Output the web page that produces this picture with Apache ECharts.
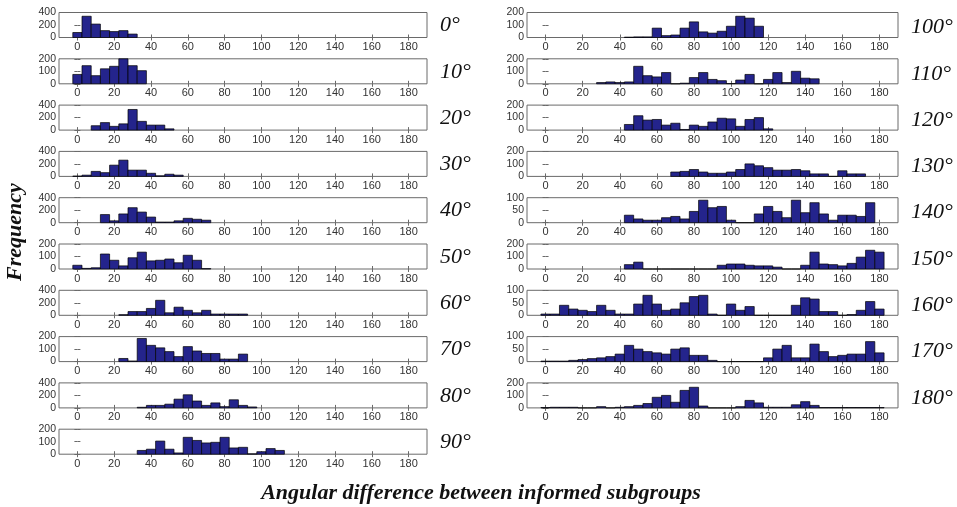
<!DOCTYPE html>
<html>
<head>
<meta charset="utf-8">
<script src="https://cdn.jsdelivr.net/npm/echarts@6/dist/echarts.min.js"></script>
<style>
  html, body { margin: 0; padding: 0; background: #fff; }
  #chart { width: 957px; height: 507px; }
</style>
</head>
<body>
<div id="chart"></div>
<script>
// bin counts per informed-subgroup angle, 5 degree bins, first bin given in firstBin
const c0   = [80, 340, 215, 110, 95, 110, 55];
const c10  = [75, 145, 65, 120, 140, 200, 145, 105];
const c20  = [70, 120, 60, 100, 330, 140, 80, 80, 20];
const c30  = [5, 20, 80, 60, 180, 260, 100, 100, 50, 10, 35, 20];
const c40  = [130, 30, 140, 240, 170, 90, 10, 10, 30, 70, 55, 40];
const c50  = [30, 5, 10, 120, 70, 25, 90, 135, 65, 70, 80, 50, 110, 70, 3];
const c60  = [10, 60, 60, 110, 240, 40, 130, 80, 40, 80, 20, 20, 20, 20];
const c70  = [25, 5, 185, 130, 110, 80, 40, 120, 85, 65, 65, 20, 20, 60];
const c80  = [10, 40, 40, 60, 140, 210, 110, 40, 80, 20, 130, 40, 15];
const c90  = [30, 40, 105, 40, 10, 135, 110, 90, 95, 135, 50, 55, 3, 20, 45, 30];
const c100 = [3, 5, 5, 75, 15, 20, 75, 125, 45, 35, 50, 90, 170, 155, 90];
const c110 = [10, 15, 10, 15, 140, 65, 55, 90, 0, 5, 50, 90, 35, 25, 2, 30, 75, 0, 35, 90, 10, 100, 45, 40];
const c120 = [45, 115, 80, 85, 40, 55, 5, 40, 30, 65, 95, 90, 30, 85, 100, 10];
const c130 = [35, 40, 55, 35, 25, 25, 35, 55, 100, 85, 70, 50, 50, 55, 45, 20, 20, 0, 45, 20, 20];
const c140 = [30, 15, 10, 10, 20, 25, 15, 45, 90, 60, 65, 10, 0, 0, 35, 65, 45, 20, 90, 40, 80, 35, 10, 30, 30, 25, 80];
const c150 = [35, 55, 0, 0, 0, 0, 0, 0, 0, 0, 30, 40, 40, 30, 25, 25, 15, 0, 0, 30, 135, 40, 35, 25, 45, 95, 150, 135];
const c160 = [5, 5, 40, 25, 20, 15, 40, 20, 5, 5, 45, 80, 45, 20, 25, 50, 75, 80, 5, 0, 45, 20, 35, 0, 0, 0, 0, 40, 70, 65, 15, 15, 0, 3, 20, 55, 25];
const c170 = [2, 2, 2, 5, 8, 12, 15, 20, 30, 65, 50, 40, 35, 30, 50, 55, 25, 25, 5, 0, 0, 0, 0, 0, 15, 50, 65, 15, 15, 70, 40, 20, 25, 30, 30, 80, 35];
const c180 = [3, 5, 5, 5, 0, 0, 10, 0, 5, 10, 20, 35, 85, 100, 45, 140, 165, 15, 0, 0, 0, 10, 60, 40, 5, 5, 5, 25, 50, 20, 3, 3, 3, 3, 3, 3, 3];

const counts = [c0, c10, c20, c30, c40, c50, c60, c70, c80, c90,
                c100, c110, c120, c130, c140, c150, c160, c170, c180];
const panelLabels = ['0°', '10°', '20°', '30°', '40°', '50°', '60°', '70°', '80°', '90°',
                     '100°', '110°', '120°', '130°', '140°', '150°', '160°', '170°', '180°'];
const firstBin = [0, 0, 10, 0, 15, 0, 25, 25, 35, 35, 45, 30, 45, 70, 45, 45, 0, 0, 0];
const yMax = [400, 200, 400, 400, 400, 200, 400, 200, 400, 200,
              200, 200, 200, 200, 100, 200, 100, 100, 200];
const xTicks = [0, 20, 40, 60, 80, 100, 120, 140, 160, 180];
const binWidth = 5;

const barColor = '#24248c';
const axisColor = '#6a6a6a';
const labelColor = '#333';

const chart = echarts.init(document.getElementById('chart'));

const grids = [], xAxes = [], yAxes = [], series = [], graphics = [];

counts.forEach(function (vals, i) {
  const col = i < 10 ? 0 : 1;
  const row = col === 0 ? i : i - 10;
  const top = 12.5 + 46.3 * row;
  const left = col === 0 ? 59 : 527;
  const width = col === 0 ? 368 : 371;
  grids.push({
    left: left, top: top, width: width, height: 25,
    show: true, borderColor: axisColor, borderWidth: 1, backgroundColor: '#fff'
  });
  const tickStyle = { show: true, inside: true, length: 3, lineStyle: { color: axisColor } };
  xAxes.push({
    type: 'value', gridIndex: i, min: -10, max: 190, position: 'bottom',
    axisLine: { show: false }, splitLine: { show: false },
    axisTick: Object.assign({ customValues: xTicks }, tickStyle),
    axisLabel: { customValues: xTicks, color: labelColor, fontSize: 11, margin: 4,
                 fontFamily: 'Liberation Sans' }
  });
  xAxes.push({
    type: 'value', gridIndex: i, min: -10, max: 190, position: 'top',
    axisLine: { show: false }, splitLine: { show: false },
    axisTick: Object.assign({ customValues: xTicks }, tickStyle),
    axisLabel: { show: false }
  });
  yAxes.push({
    type: 'value', gridIndex: i, min: 0, max: yMax[i], interval: yMax[i] / 2, position: 'left',
    axisLine: { show: false }, splitLine: { show: false },
    axisTick: tickStyle,
    axisLabel: { color: labelColor, fontSize: 10.5, margin: 3, fontFamily: 'Liberation Sans' }
  });
  yAxes.push({
    type: 'value', gridIndex: i, min: 0, max: yMax[i], interval: yMax[i] / 2, position: 'right',
    axisLine: { show: false }, splitLine: { show: false },
    axisTick: tickStyle,
    axisLabel: { show: false }
  });
  series.push({
    type: 'custom',
    xAxisIndex: 2 * i,
    yAxisIndex: 2 * i,
    data: vals.map(function (v, k) { return [firstBin[i] + k * binWidth, v]; }),
    encode: { x: 0, y: 1 },
    renderItem: function (params, api) {
      const x = api.value(0), y = api.value(1);
      const p0 = api.coord([x - binWidth / 2, y]);
      const p1 = api.coord([x + binWidth / 2, 0]);
      return {
        type: 'rect',
        shape: { x: p0[0], y: p0[1], width: p1[0] - p0[0], height: p1[1] - p0[1] },
        style: { fill: barColor, stroke: '#000', lineWidth: 0.7 }
      };
    }
  });
  graphics.push({
    type: 'text',
    left: col === 0 ? 440 : 911,
    top: top + (col === 0 ? 2 : 4),
    style: {
      text: panelLabels[i], fill: '#111',
      font: 'italic 22px "Liberation Serif"'
    }
  });
});

graphics.push({
  type: 'text', x: 15, y: 232, rotation: Math.PI / 2,
  style: {
    text: 'Frequency', fill: '#111', align: 'center', verticalAlign: 'middle',
    font: 'italic bold 22px "Liberation Serif"'
  }
});
graphics.push({
  type: 'text', x: 481, y: 493,
  style: {
    text: 'Angular difference between informed subgroups', fill: '#111',
    align: 'center', verticalAlign: 'middle',
    font: 'italic bold 22px "Liberation Serif"'
  }
});

chart.setOption({
  backgroundColor: '#fff',
  animation: false,
  grid: grids,
  xAxis: xAxes,
  yAxis: yAxes,
  series: series,
  graphic: graphics
});
</script>
</body>
</html>
